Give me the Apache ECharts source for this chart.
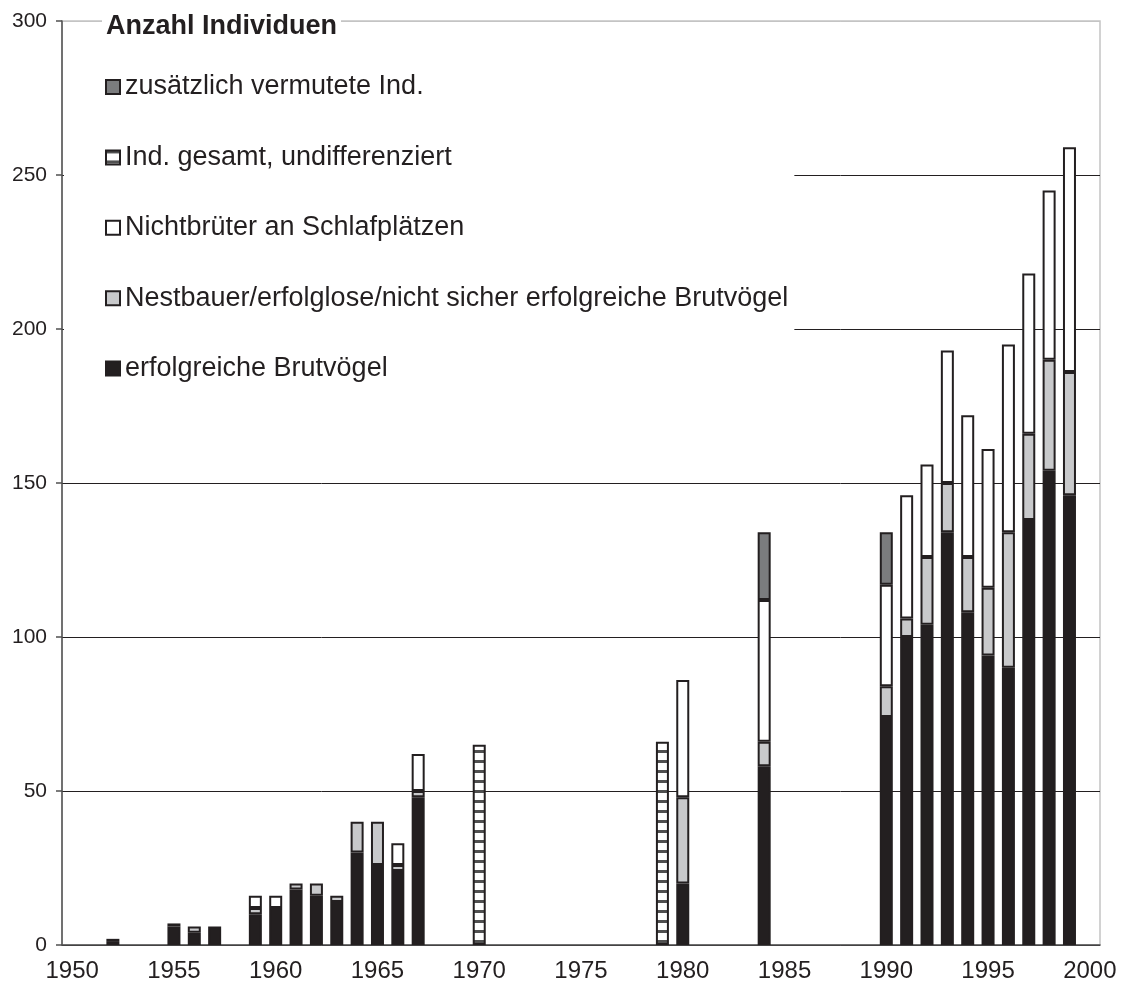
<!DOCTYPE html>
<html>
<head>
<meta charset="utf-8">
<script src="https://cdn.jsdelivr.net/npm/echarts@6/dist/echarts.min.js"></script>
<style>
html,body{margin:0;padding:0;background:#fff;}
#chart{width:1123px;height:985px;}
</style>
</head>
<body>
<div id="chart"></div>
<script>
// Categories (years)
var years = [
  '1950','1951','1952','1953','1954','1955','1956','1957','1958','1959',
  '1960','1961','1962','1963','1964','1965','1966','1967','1968','1969',
  '1970','1971','1972','1973','1974','1975','1976','1977','1978','1979',
  '1980','1981','1982','1983','1984','1985','1986','1987','1988','1989',
  '1990','1991','1992','1993','1994','1995','1996','1997','1998','1999',
  '2000'
];
var yTicks = [0, 50, 100, 150, 200, 250, 300];

var names = {
  erfolg: 'erfolgreiche Brutvögel',
  nest: 'Nestbauer/erfolglose/nicht sicher erfolgreiche Brutvögel',
  nicht: 'Nichtbrüter an Schlafplätzen',
  gesamt: 'Ind. gesamt, undifferenziert',
  vermutet: 'zusätzlich vermutete Ind.'
};

var erfolgreiche = [
  null, null, null, null, null, 6, 4, 6, null, 10,
  12, 18, 16, 14, 30, 26, 24, 48, null, null,
  null, null, null, null, null, null, null, null, null, null,
  20, null, null, null, 58, null, null, null, null, null,
  74, 100, 104, 134, 108, 94, 90, 138, 154, 146,
  null
];
var nestbauer = [
  null, null, 1, null, null, 1, 2, null, null, 2,
  null, 2, 4, 2, 10, 14, 2, 2, null, null,
  null, null, null, null, null, null, null, null, null, null,
  28, null, null, null, 8, null, null, null, null, null,
  10, 6, 22, 16, 18, 22, 44, 28, 36, 40,
  null
];
var nichtbrueter = [
  null, null, 1, null, null, null, null, null, null, 4,
  4, null, null, null, null, null, 7, 12, null, null,
  null, null, null, null, null, null, null, null, null, null,
  38, null, null, null, 46, null, null, null, null, null,
  33, 40, 30, 43, 46, 45, 61, 52, 55, 73,
  null
];
var gesamt = [
  null, null, null, null, null, null, null, null, null, null,
  null, null, null, null, null, null, null, null, null, null,
  65, null, null, null, null, null, null, null, null, 66,
  null, null, null, null, null, null, null, null, null, null,
  null, null, null, null, null, null, null, null, null, null,
  null
];
var vermutet = [
  null, null, null, null, null, null, null, null, null, null,
  null, null, null, null, null, null, null, null, null, null,
  null, null, null, null, null, null, null, null, null, null,
  null, null, null, null, 22, null, null, null, null, null,
  17, null, null, null, null, null, null, null, null, null,
  null
];

// striped pattern
var pc = document.createElement('canvas');
pc.width = 10; pc.height = 10;
var ctx = pc.getContext('2d');
ctx.fillStyle = '#ffffff';
ctx.fillRect(0, 0, 10, 10);
ctx.fillStyle = '#505050';
ctx.fillRect(0, 0, 10, 3);

var ink = '#231f20';
var font = '"Liberation Sans", Arial, sans-serif';

function barSeries(name, data, color) {
  return {
    name: name,
    type: 'bar',
    stack: 'total',
    data: data,
    barWidth: 13,
    itemStyle: { color: color, borderColor: ink, borderWidth: 2 }
  };
}

var chart = echarts.init(document.getElementById('chart'));
chart.setOption({
  animation: false,
  backgroundColor: '#ffffff',
  title: {
    text: 'Anzahl Individuen',
    left: 102,
    top: 11,
    padding: [2, 4],
    backgroundColor: '#ffffff',
    textStyle: { fontFamily: font, fontSize: 27, fontWeight: 'bold', color: ink, lineHeight: 28 }
  },
  legend: {
    orient: 'vertical',
    left: 64,
    top: 30,
    padding: [43, 6, 20, 41],
    backgroundColor: '#ffffff',
    itemGap: 42.4,
    itemWidth: 14,
    itemHeight: 14,
    icon: 'rect',
    selectedMode: false,
    itemStyle: { borderWidth: 2, borderColor: ink },
    textStyle: { fontFamily: font, fontSize: 27, color: ink, lineHeight: 28 },
    data: [names.vermutet, names.gesamt, names.nicht, names.nest, names.erfolg]
  },
  grid: {
    left: 62, right: 23, top: 21, bottom: 40,
    show: true,
    borderColor: '#c4c4c4',
    borderWidth: 1.5,
    containLabel: false
  },
  xAxis: {
    type: 'category',
    data: years,
    boundaryGap: true,
    axisLine: { lineStyle: { color: '#505050', width: 1.5 } },
    axisTick: { interval: 0, length: 6, lineStyle: { color: '#505050', width: 1.5 } },
    axisLabel: { interval: 4, fontFamily: font, fontSize: 24, color: ink, margin: 14 },
    splitLine: { show: false }
  },
  yAxis: {
    type: 'value',
    min: 0, max: 300, interval: 50,
    axisLine: { show: true, lineStyle: { color: '#505050', width: 1.5 } },
    axisTick: { show: true, length: 6, lineStyle: { color: '#505050', width: 1.5 } },
    axisLabel: { fontFamily: font, fontSize: 21, color: ink, margin: 15 },
    splitLine: { show: true, lineStyle: { color: [ink, ink, ink, ink, ink, ink, '#c4c4c4'], width: 1 } }
  },
  series: [
    barSeries(names.erfolg, erfolgreiche, '#231f20'),
    barSeries(names.nest, nestbauer, '#c8c9cb'),
    barSeries(names.nicht, nichtbrueter, '#ffffff'),
    barSeries(names.gesamt, gesamt, { image: pc, repeat: 'repeat' }),
    barSeries(names.vermutet, vermutet, '#7b7c7e')
  ]
});
</script>
</body>
</html>
